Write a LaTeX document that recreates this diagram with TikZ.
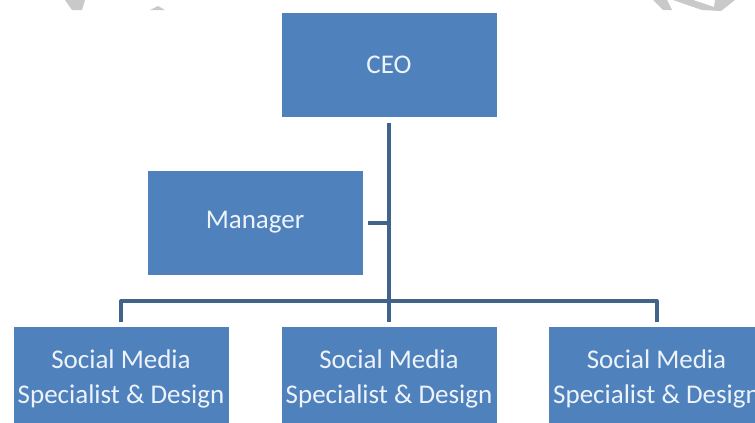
\documentclass[tikz,border=0pt]{standalone}
\usepackage{fontspec}
\setmainfont{Carlito}
\definecolor{boxblue}{HTML}{4F81BD}
\definecolor{lineblue}{HTML}{41638A}
\definecolor{boxtext}{HTML}{EEF3FA}
\definecolor{mark}{HTML}{C9C9C9}
\begin{document}
\begin{tikzpicture}[x=1pt,y=-1pt,
  box/.style={fill=boxblue, draw=none, minimum width=215pt, minimum height=104pt,
    inner sep=0pt, text=boxtext, font=\fontsize{27}{35}\selectfont, align=center},
  conn/.style={draw=lineblue, line width=4pt, line join=round},
  wm/.style={fill=mark, draw=none}]
\useasboundingbox (0,0) rectangle (755,423);
\clip (0,0) rectangle (755,423);
\fill[white] (0,0) rectangle (755,423);
% faint watermark fragments at the top edge
\fill[wm] (65,0) -- (85,0) -- (82,10) -- (72,10) -- cycle;
\fill[wm] (158,6) -- (165,10) -- (150,10) -- cycle;
\fill[wm] (653,0) -- (667,0) -- (672,10) -- (663,10) -- cycle;
\fill[wm] (673,0) -- (693,0) -- (714,7) -- (715,0) -- (735,0) -- (721,11) -- (702,10) -- cycle;
% boxes
\node[box] (ceo) at (389,65) {CEO};
\node[box] (mgr) at (255,222.5) {Manager};
\node[box] (s1) at (121,379) {Social Media\\Specialist \& Design};
\node[box] (s2) at (389,379) {Social Media\\Specialist \& Design};
\node[box] (s3) at (656.5,379) {Social Media\\Specialist \& Design};
% connectors
\coordinate (bar) at (389,301);
\draw[conn] ([yshift=-6pt]ceo.south) -- ([yshift=5pt]s2.north);
\draw[conn] ([yshift=5pt]s1.north) |- (bar) -| ([yshift=5pt]s3.north);
\draw[conn] ([xshift=5pt]mgr.east) -- (mgr.east -| bar);
\end{tikzpicture}
\end{document}
